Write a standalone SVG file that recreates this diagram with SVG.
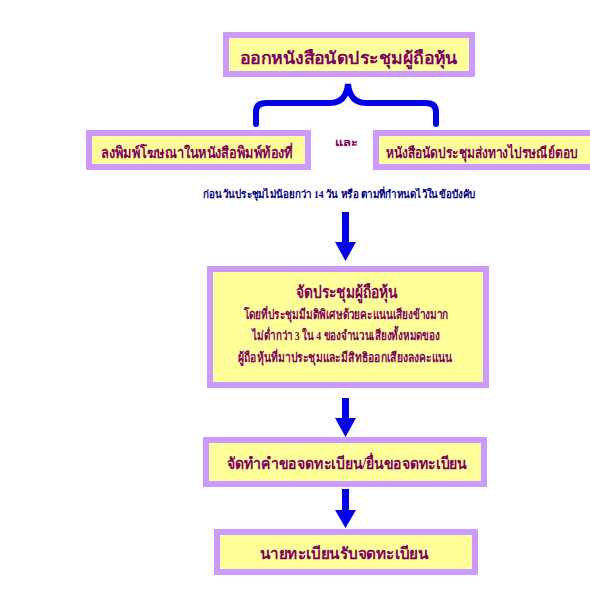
<svg xmlns="http://www.w3.org/2000/svg" width="590" height="600" viewBox="0 0 590 600">
<style>
.box{fill:#ffff99;stroke:#cc99ff;stroke-width:6}
.t{font-family:"Liberation Serif","DejaVu Serif",serif;font-weight:bold;fill:#800060;text-anchor:middle}
.note{font-family:"Liberation Serif","DejaVu Serif",serif;font-weight:bold;fill:#000080;text-anchor:middle}
.arr{fill:#0000ee}
</style>
<rect width="590" height="600" fill="#ffffff"/>
<g id="n1">
<rect class="box" x="226" y="35" width="246" height="39"/>
<text class="t" x="349" y="64" font-size="17" textLength="218" lengthAdjust="spacingAndGlyphs">ออกหนังสือนัดประชุมผู้ถือหุ้น</text>
</g>
<g id="n2">
<rect class="box" x="89" y="133" width="219" height="34"/>
<text class="t" x="197" y="158" font-size="15" textLength="192" lengthAdjust="spacingAndGlyphs">ลงพิมพ์โฆษณาในหนังสือพิมพ์ท้องที่</text>
</g>
<g id="n3">
<rect class="box" x="376" y="133" width="230" height="34"/>
<text class="t" x="482" y="158" font-size="15" textLength="192" lengthAdjust="spacingAndGlyphs">หนังสือนัดประชุมส่งทางไปรษณีย์ตอบ</text>
</g>
<g id="n4">
<rect class="box" x="210" y="269" width="276" height="116"/>
<text class="t" x="347" y="298" font-size="17" textLength="102" lengthAdjust="spacingAndGlyphs">จัดประชุมผู้ถือหุ้น</text>
<text class="t" x="346" y="319" font-size="13" textLength="205" lengthAdjust="spacingAndGlyphs">โดยที่ประชุมมีมติพิเศษด้วยคะแนนเสียงข้างมาก</text>
<text class="t" x="346" y="340" font-size="13" textLength="188" lengthAdjust="spacingAndGlyphs">ไม่ต่ำกว่า 3 ใน 4 ของจำนวนเสียงทั้งหมดของ</text>
<text class="t" x="345" y="362" font-size="13" textLength="215" lengthAdjust="spacingAndGlyphs">ผู้ถือหุ้นที่มาประชุมและมีสิทธิออกเสียงลงคะแนน</text>
</g>
<g id="n5">
<rect class="box" x="206" y="440" width="278" height="44"/>
<text class="t" x="347" y="469" font-size="16" textLength="240" lengthAdjust="spacingAndGlyphs">จัดทำคำขอจดทะเบียน/ยื่นขอจดทะเบียน</text>
</g>
<g id="n6">
<rect class="box" x="217" y="532" width="258" height="40"/>
<text class="t" x="344" y="559" font-size="16" textLength="169" lengthAdjust="spacingAndGlyphs">นายทะเบียนรับจดทะเบียน</text>
</g>
<g id="labels">
<text class="t" x="346" y="146" font-size="10" textLength="22" lengthAdjust="spacingAndGlyphs">และ</text>
<text class="note" x="339" y="198" font-size="11" textLength="272" lengthAdjust="spacingAndGlyphs">ก่อนวันประชุมไม่น้อยกว่า 14 วัน หรือ ตามที่กำหนดไว้ในข้อบังคับ</text>
</g>
<g id="connectors">
<path d="M256 124 V112 Q256 103 266 103 H330 Q346 103 348 84 Q350 103 366 103 H426 Q436 103 436 112 V124" fill="none" stroke="#0000ee" stroke-width="6" stroke-linecap="round"/>
<polygon class="arr" points="342,212 349,212 349,242 356,242 345.5,261 335,242 342,242"/>
<polygon class="arr" points="342,398 349,398 349,418 356,418 345.5,437 335,418 342,418"/>
<polygon class="arr" points="342,489 349,489 349,510 356,510 345.5,528 335,510 342,510"/>
</g>
</svg>
